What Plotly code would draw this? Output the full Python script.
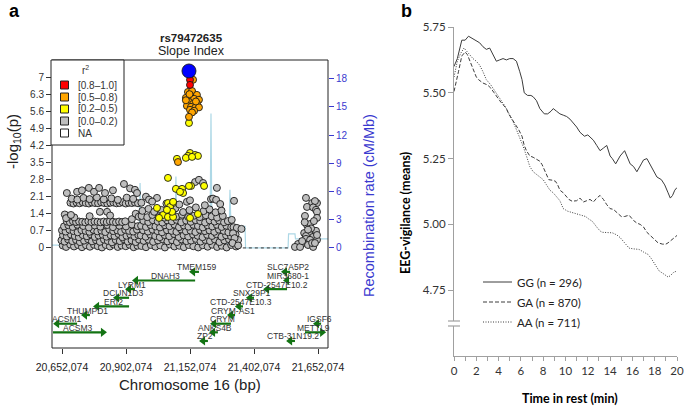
import plotly.graph_objects as go

W, H = 685, 406


def fx(px):
    return px / W


def fy(py):
    return 1 - py / H


# ---------------- Panel a data (positions in Mb on chr16, -log10 p) ----------------
LEAD_SNP = "rs79472635"
PHENOTYPE = "Slope Index"
LEAD_SNPS = [(21.148, 7.25)]
RED_SNPS = [(21.152, 6.89), (21.152, 6.68)]
ORANGE_SNPS = [
    (21.164, 6.89), (21.144, 6.39), (21.160, 6.43), (21.179, 6.27), (21.136, 6.15),
    (21.152, 6.15), (21.168, 6.11), (21.187, 6.07), (21.148, 5.98), (21.164, 5.90),
    (21.179, 5.92), (21.140, 5.82), (21.156, 5.78), (21.172, 5.74), (21.187, 5.76),
    (21.152, 5.66), (21.168, 5.62), (21.160, 5.55), (21.148, 5.37), (21.136, 6.05),
    (21.175, 6.00), (21.150, 6.30), (21.105, 3.52),
]
YELLOW_SNPS = [
    (21.148, 5.12), (21.101, 3.65), (21.152, 3.89), (21.144, 3.77), (21.172, 3.81),
    (21.183, 3.77), (21.136, 3.69), (21.160, 3.73), (21.066, 2.87), (21.097, 2.42),
    (21.121, 2.42), (21.125, 2.25), (21.113, 2.30), (21.156, 2.54), (21.207, 2.54),
    (21.148, 2.54), (21.066, 1.84), (21.086, 1.84), (21.074, 1.68), (21.023, 1.64),
    (21.047, 1.35), (21.031, 1.23), (21.066, 1.27), (21.086, 1.27), (21.082, 1.48),
    (21.152, 1.23), (21.183, 1.39), (21.062, 1.56), (21.086, 1.89),
]
GRAY_SNPS = [
    # left block, low values
    (20.655, 0.10), (20.668, 0.04), (20.684, 0.14), (20.699, 0.06), (20.715, 0.12),
    (20.730, 0.03), (20.746, 0.11), (20.761, 0.05), (20.777, 0.13), (20.792, 0.07),
    (20.808, 0.02), (20.823, 0.12), (20.839, 0.06), (20.854, 0.14), (20.870, 0.04),
    (20.885, 0.10), (20.901, 0.07), (20.916, 0.13), (20.932, 0.03), (20.947, 0.09),
    (20.650, 0.31), (20.662, 0.26), (20.676, 0.35), (20.692, 0.28), (20.707, 0.33),
    (20.722, 0.24), (20.738, 0.30), (20.754, 0.36), (20.769, 0.27), (20.785, 0.32),
    (20.800, 0.25), (20.816, 0.34), (20.831, 0.29), (20.847, 0.23), (20.862, 0.33),
    (20.878, 0.28), (20.893, 0.36), (20.909, 0.26), (20.924, 0.31), (20.940, 0.24),
    (20.953, 0.34),
    (20.656, 0.52), (20.671, 0.47), (20.687, 0.55), (20.702, 0.49), (20.718, 0.44),
    (20.733, 0.53), (20.749, 0.48), (20.764, 0.56), (20.780, 0.45), (20.795, 0.51),
    (20.811, 0.54), (20.826, 0.46), (20.842, 0.52), (20.857, 0.49), (20.873, 0.57),
    (20.888, 0.44), (20.904, 0.50), (20.919, 0.55), (20.935, 0.47), (20.950, 0.53),
    (20.652, 0.72), (20.666, 0.67), (20.681, 0.75), (20.697, 0.69), (20.713, 0.64),
    (20.728, 0.73), (20.744, 0.70), (20.759, 0.66), (20.775, 0.74), (20.790, 0.68),
    (20.806, 0.71), (20.821, 0.65), (20.837, 0.76), (20.852, 0.69), (20.868, 0.72),
    (20.883, 0.66), (20.899, 0.74), (20.914, 0.70), (20.930, 0.67), (20.945, 0.75),
    (20.660, 0.88), (20.677, 0.93), (20.694, 0.86), (20.712, 0.95), (20.735, 0.90),
    (20.757, 0.84), (20.780, 0.92), (20.802, 0.87), (20.829, 0.94), (20.851, 0.85),
    (20.876, 0.91), (20.902, 0.88), (20.925, 0.96), (20.948, 0.89),
    # left block, band near 1.07
    (20.671, 1.08), (20.683, 1.05), (20.695, 1.09), (20.707, 1.06), (20.719, 1.08),
    (20.731, 1.07), (20.743, 1.05), (20.755, 1.09), (20.767, 1.06), (20.779, 1.08),
    (20.791, 1.07), (20.803, 1.05), (20.815, 1.08), (20.827, 1.06), (20.839, 1.09),
    (20.851, 1.07), (20.863, 1.05), (20.875, 1.08), (20.887, 1.06), (20.899, 1.09),
    (20.663, 1.37), (20.668, 1.22), (20.700, 1.25), (20.687, 1.35), (20.760, 1.30),
    (20.800, 1.48), (20.828, 1.48), (20.840, 1.33), (20.925, 1.18), (20.940, 1.40),
    (20.952, 1.28),
    # left block, band near 1.84
    (20.685, 1.85), (20.697, 1.82), (20.709, 1.86), (20.721, 1.83), (20.733, 1.87),
    (20.745, 1.84), (20.757, 1.82), (20.769, 1.86), (20.781, 1.84), (20.793, 1.83),
    (20.805, 1.87), (20.817, 1.84), (20.829, 1.82), (20.841, 1.85), (20.853, 1.86),
    (20.865, 1.83), (20.877, 1.84), (20.889, 1.87), (20.901, 1.82), (20.913, 1.85),
    (20.925, 1.84), (20.937, 1.86), (20.949, 1.83),
    (20.690, 2.02), (20.712, 1.98), (20.736, 2.05), (20.760, 2.00), (20.788, 2.07),
    (20.815, 1.99), (20.845, 2.03), (20.870, 1.97), (20.905, 2.06), (20.930, 2.01),
    (20.671, 2.25), (20.711, 2.30), (20.730, 2.36), (20.757, 2.46), (20.777, 2.30),
    (20.797, 2.46), (20.820, 2.25), (20.851, 2.36), (20.894, 2.62), (20.918, 2.44),
    (20.937, 2.38), (20.945, 2.25),
    # middle block
    (20.962, 0.08), (20.980, 0.03), (20.999, 0.12), (21.017, 0.05), (21.036, 0.10),
    (21.054, 0.02), (21.073, 0.14), (21.091, 0.06), (21.110, 0.09), (21.128, 0.03),
    (21.147, 0.12), (21.165, 0.07), (21.184, 0.02), (21.202, 0.11), (21.221, 0.05),
    (21.239, 0.13), (21.258, 0.04), (21.276, 0.09), (21.295, 0.02), (21.313, 0.12),
    (21.332, 0.06),
    (20.971, 0.29), (20.990, 0.34), (21.008, 0.25), (21.027, 0.31), (21.045, 0.36),
    (21.064, 0.27), (21.082, 0.32), (21.101, 0.24), (21.119, 0.35), (21.138, 0.28),
    (21.156, 0.30), (21.175, 0.37), (21.193, 0.26), (21.212, 0.33), (21.230, 0.28),
    (21.249, 0.35), (21.267, 0.24), (21.286, 0.31), (21.304, 0.36), (21.323, 0.27),
    (21.340, 0.33),
    (20.960, 0.51), (20.979, 0.46), (20.997, 0.55), (21.016, 0.49), (21.034, 0.44),
    (21.053, 0.53), (21.071, 0.48), (21.090, 0.57), (21.108, 0.45), (21.127, 0.52),
    (21.145, 0.47), (21.164, 0.55), (21.182, 0.50), (21.201, 0.44), (21.219, 0.54),
    (21.238, 0.49), (21.256, 0.56), (21.275, 0.46), (21.293, 0.52), (21.312, 0.48),
    (21.330, 0.55),
    (20.969, 0.72), (20.988, 0.67), (21.006, 0.75), (21.025, 0.69), (21.043, 0.64),
    (21.062, 0.73), (21.080, 0.70), (21.099, 0.66), (21.117, 0.76), (21.136, 0.68),
    (21.154, 0.71), (21.173, 0.65), (21.191, 0.74), (21.210, 0.69), (21.228, 0.72),
    (21.247, 0.66), (21.265, 0.75), (21.284, 0.70), (21.302, 0.64), (21.321, 0.73),
    (20.961, 0.91), (20.980, 0.86), (20.998, 0.94), (21.017, 0.88), (21.035, 0.84),
    (21.054, 0.93), (21.072, 0.89), (21.091, 0.96), (21.109, 0.85), (21.128, 0.92),
    (21.146, 0.87), (21.165, 0.95), (21.183, 0.90), (21.202, 0.84), (21.220, 0.93),
    (21.239, 0.88), (21.257, 0.95), (21.276, 0.86), (21.294, 0.91), (21.313, 0.85),
    (20.970, 1.11), (20.989, 1.06), (21.007, 1.14), (21.026, 1.08), (21.044, 1.04),
    (21.063, 1.13), (21.081, 1.09), (21.100, 1.15), (21.118, 1.05), (21.137, 1.12),
    (21.155, 1.07), (21.174, 1.14), (21.192, 1.10), (21.211, 1.04), (21.229, 1.13),
    (21.248, 1.08), (21.266, 1.12), (21.285, 1.05), (21.300, 1.10),
    (20.963, 1.31), (20.985, 1.26), (21.005, 1.35), (21.030, 1.29), (21.052, 1.24),
    (21.076, 1.33), (21.098, 1.28), (21.121, 1.36), (21.145, 1.27), (21.168, 1.32),
    (21.190, 1.26), (21.214, 1.34), (21.237, 1.29), (21.258, 1.24), (21.280, 1.31),
    (20.966, 1.52), (20.990, 1.60), (21.012, 1.48), (21.040, 1.56), (21.066, 1.50),
    (21.095, 1.62), (21.125, 1.47), (21.150, 1.55), (21.175, 1.66), (21.205, 1.51),
    (21.228, 1.58), (21.252, 1.46), (21.275, 1.53),
    (20.980, 2.10), (20.992, 1.98), (21.023, 2.05), (21.004, 1.90), (20.962, 1.85),
    (21.140, 1.89), (21.152, 1.95), (21.172, 2.70), (21.187, 2.79), (21.203, 2.66),
    (21.234, 2.00), (21.242, 2.02), (21.254, 1.97), (21.257, 2.46), (21.324, 1.93),
    (21.270, 1.80), (21.110, 1.78), (21.060, 1.82), (21.210, 1.75),
    (21.315, 1.15), (21.322, 0.85), (21.335, 0.82), (21.353, 0.78), (21.320, 0.60),
    (21.326, 0.40), (21.318, 0.20), (21.340, 0.10),
    # right block
    (21.605, 2.05), (21.629, 1.84), (21.648, 1.84), (21.640, 1.92), (21.609, 1.68),
    (21.633, 1.66), (21.644, 1.56), (21.648, 1.48), (21.601, 1.31), (21.648, 1.23),
    (21.609, 0.94), (21.621, 0.98), (21.644, 0.70), (21.598, 0.61), (21.617, 0.61),
    (21.633, 0.45), (21.605, 0.49), (21.605, 0.37), (21.621, 0.33), (21.648, 0.33),
    (21.594, 0.20), (21.613, 0.12), (21.633, 0.04), (21.574, 0.16), (21.562, 0.04),
    (21.582, 0.04), (21.629, 0.20), (21.640, 0.20), (21.648, 0.53), (21.625, 0.80),
    (21.590, 0.28), (21.613, 0.75), (21.636, 1.10), (21.600, 1.05),
]
RECOMB_POS = [20.613, 20.953, 20.957, 20.961, 21.093, 21.097, 21.101, 21.230, 21.234,
              21.238, 21.304, 21.308, 21.312, 21.367, 21.369, 21.535, 21.537, 21.562,
              21.564, 21.691]
RECOMB_RATE = [0.3, 0.3, 6.9, 0.3, 0.4, 7.6, 0.4, 0.4, 14.3,
               0.5, 0.5, 6.2, 2.3, 2.3, 0.0, 0.0, 1.5, 1.5,
               0.96, 0.96]
NO_SNP_SPAN = [21.335, 21.545]

GENE_NAMES = ["ACSM3", "ACSM1", "THUMPD1", "ERI2", "DCUN1D3", "LYRM1", "DNAH3",
              "TMEM159", "SLC7A5P2", "MIR3680-1", "CTD-2547E10.2", "SNX29P1",
              "CTD-2547E10.3", "CRYM-AS1", "CRYM", "ANKS4B", "ZP2", "IGSF6",
              "METTL9", "CTB-31N19.2"]
GENE_START = [20.617, 20.633, 20.742, 20.789, 20.867, 20.914, 20.941,
              21.164, 21.523, 21.531, 21.453, 21.386,
              21.343, 21.312, 21.246, 21.242, 21.203, 21.648,
              21.601, 21.543]
GENE_END = [20.812, 20.711, 20.761, 20.914, 20.914, 20.937, 21.172,
            21.187, 21.543, 21.535, 21.531, 21.402,
            21.359, 21.328, 21.312, 21.261, 21.222, 21.664,
            21.668, 21.562]
GENE_STRAND = ["+", "-", "-", "-", "-", "-", "-",
               "-", "-", "-", "-", "-",
               "-", "-", "-", "-", "-", "-",
               "+", "-"]
GENE_ROW = [7, 6, 5, 4, 3, 2, 1,
            0, 0, 1, 2, 3,
            4, 5, 6, 7, 8, 6,
            7, 8]

X_TICKS_BP = [20652074, 20902074, 21152074, 21402074, 21652074]
LOGP_TICKS = [0, 0.7, 1.4, 2.1, 2.8, 3.5, 4.2, 4.9, 5.6, 6.3, 7]
RECOMB_TICKS = [0, 3, 6, 9, 12, 15, 18]
R2_LABELS = ["[0.8\u20131.0]", "[0.5\u20130.8)", "[0.2\u20130.5)", "[0.0\u20130.2)", "NA"]
R2_COLORS = ["#FF0000", "#FFA500", "#FFFF00", "#BEBEBE", "#FFFFFF"]

# ---------------- Panel b data (EEG-vigilance means over time) ----------------
GENOTYPES = ["GG (n = 296)", "GA (n = 870)", "AA (n = 711)"]
GG_CURVE = [
    (0, 5.60), (0.3, 5.63), (0.7, 5.70), (1.0, 5.70), (1.3, 5.715), (1.7, 5.705),
    (2.0, 5.70), (2.3, 5.69), (2.6, 5.675), (2.9, 5.665), (3.2, 5.67), (3.5, 5.645),
    (3.8, 5.62), (4.1, 5.625), (4.4, 5.63), (4.7, 5.625), (5.0, 5.63), (5.3, 5.63),
    (5.6, 5.62), (5.9, 5.58), (6.1, 5.55), (6.3, 5.50), (6.6, 5.49), (6.9, 5.49),
    (7.1, 5.485), (7.4, 5.47), (7.7, 5.44), (8.1, 5.42), (8.4, 5.42), (8.7, 5.43),
    (8.9, 5.44), (9.2, 5.43), (9.5, 5.42), (9.8, 5.415), (10.1, 5.41), (10.4, 5.40),
    (10.7, 5.385), (11.0, 5.37), (11.3, 5.35), (11.7, 5.335), (12.0, 5.34), (12.3, 5.33),
    (12.5, 5.32), (12.8, 5.30), (13.1, 5.28), (13.4, 5.29), (13.7, 5.30), (14.0, 5.26),
    (14.2, 5.25), (14.5, 5.23), (14.9, 5.26), (15.3, 5.28), (15.6, 5.25), (15.8, 5.23),
    (16.1, 5.22), (16.4, 5.20), (16.8, 5.23), (17.0, 5.245), (17.3, 5.25), (17.7, 5.22),
    (18.0, 5.20), (18.2, 5.18), (18.6, 5.17), (18.9, 5.15), (19.2, 5.12), (19.4, 5.10),
    (19.6, 5.11), (19.8, 5.13), (20.0, 5.14),
]
GA_CURVE = [
    (0, 5.505), (0.2, 5.54), (0.4, 5.58), (0.7, 5.64), (1.0, 5.655), (1.2, 5.645),
    (1.4, 5.625), (1.7, 5.59), (2.0, 5.56), (2.2, 5.55), (2.6, 5.537), (3.0, 5.53),
    (3.3, 5.518), (3.6, 5.50), (3.8, 5.486), (4.1, 5.47), (4.4, 5.455), (4.7, 5.44),
    (4.9, 5.42), (5.2, 5.40), (5.5, 5.385), (5.8, 5.36), (6.1, 5.335), (6.3, 5.30),
    (6.5, 5.28), (6.8, 5.26), (7.1, 5.255), (7.4, 5.246), (7.7, 5.24), (7.9, 5.227),
    (8.2, 5.20), (8.5, 5.17), (8.8, 5.168), (9.1, 5.164), (9.3, 5.15), (9.5, 5.13),
    (9.8, 5.12), (10.1, 5.105), (10.3, 5.095), (10.6, 5.088), (11.0, 5.09), (11.3, 5.10),
    (11.6, 5.085), (11.9, 5.09), (12.2, 5.095), (12.5, 5.085), (12.8, 5.10), (13.1, 5.11),
    (13.4, 5.095), (13.7, 5.075), (14.0, 5.06), (14.3, 5.057), (14.6, 5.045), (15.0, 5.03),
    (15.3, 5.03), (15.7, 5.035), (16.1, 5.015), (16.4, 5.005), (16.7, 5.0), (17.0, 4.99),
    (17.3, 4.97), (17.7, 4.955), (18.0, 4.945), (18.3, 4.93), (18.7, 4.925), (19.0, 4.925),
    (19.2, 4.93), (19.5, 4.94), (19.8, 4.95), (20.0, 4.958),
]
AA_CURVE = [
    (0, 5.56), (0.3, 5.62), (0.6, 5.65), (0.9, 5.67), (1.3, 5.65), (1.7, 5.63),
    (2.0, 5.62), (2.3, 5.605), (2.6, 5.58), (2.9, 5.55), (3.3, 5.53), (3.8, 5.50),
    (4.1, 5.48), (4.4, 5.46), (4.7, 5.44), (5.0, 5.417), (5.3, 5.39), (5.6, 5.36),
    (5.9, 5.33), (6.2, 5.297), (6.5, 5.26), (6.8, 5.22), (7.1, 5.20), (7.4, 5.19),
    (7.7, 5.18), (8.0, 5.17), (8.3, 5.15), (8.6, 5.13), (8.9, 5.12), (9.2, 5.107),
    (9.5, 5.09), (9.8, 5.06), (10.2, 5.05), (10.6, 5.045), (11.0, 5.04), (11.4, 5.035),
    (11.8, 5.03), (12.1, 5.02), (12.4, 5.012), (12.8, 4.99), (13.1, 4.975), (13.3, 4.97),
    (13.7, 4.97), (14.2, 4.968), (14.6, 4.96), (14.9, 4.95), (15.3, 4.93), (15.7, 4.91),
    (16.1, 4.907), (16.6, 4.905), (17.0, 4.895), (17.4, 4.886), (17.7, 4.87), (17.9, 4.856),
    (18.2, 4.835), (18.4, 4.823), (18.7, 4.815), (19.0, 4.804), (19.2, 4.80), (19.4, 4.805),
    (19.7, 4.818), (20.0, 4.823),
]
Y_TICKS_B = [4.75, 5.00, 5.25, 5.50, 5.75]
X_TICKS_B = list(range(0, 21))

# ---------------- styles ----------------
FONT_A = "Liberation Sans, Arial, sans-serif"
FONT_B = "Lato, Open Sans, sans-serif"
GENE_GREEN = "#137313"
RECOMB_BLUE = "#ADD8E6"
AXIS_BLUE = "#3A3ACF"
LINE_GRAY = "#3C3C3C"
B_AXIS = "#A0A0A0"


def ann(px, py, text, size, color="#222222", family=FONT_A, angle=0, xanchor="center"):
    return dict(x=fx(px), y=fy(py), xref="paper", yref="paper", text=text,
                showarrow=False, textangle=angle, xanchor=xanchor, yanchor="middle",
                font=dict(family=family, size=size, color=color))


fig = go.Figure()

# recombination line (primary y, drawn first)
fig.add_trace(go.Scatter(x=RECOMB_POS, y=RECOMB_RATE, mode="lines",
                         line=dict(color=RECOMB_BLUE, width=1.2),
                         xaxis="x", yaxis="y", hoverinfo="skip"))
fig.add_trace(go.Scatter(x=NO_SNP_SPAN, y=[0, 0], mode="lines",
                         line=dict(color="#333333", width=1, dash="dot"),
                         xaxis="x", yaxis="y", hoverinfo="skip"))


def snp_trace(pts, color, size):
    xs = [p[0] for p in pts]
    ys = [p[1] for p in pts]
    return go.Scatter(x=xs, y=ys, mode="markers", xaxis="x", yaxis="y2",
                      marker=dict(color=color, size=size,
                                  line=dict(color="#1a1a1a", width=0.9)),
                      hoverinfo="skip")


fig.add_trace(snp_trace(GRAY_SNPS, R2_COLORS[3], 7))
fig.add_trace(snp_trace(YELLOW_SNPS, R2_COLORS[2], 7))
fig.add_trace(snp_trace(ORANGE_SNPS, R2_COLORS[1], 7))
fig.add_trace(snp_trace(RED_SNPS, R2_COLORS[0], 7))
fig.add_trace(snp_trace(LEAD_SNPS, "#0000FF", 14))

# genes
ROW0, ROWSTEP = -0.98, 0.354
gx, gy, hx, hy, hs = [], [], [], [], []
for s, e, st, r in zip(GENE_START, GENE_END, GENE_STRAND, GENE_ROW):
    yv = ROW0 - ROWSTEP * r
    gx += [s, e, None]
    gy += [yv, yv, None]
    if st == "+":
        hx.append(e); hs.append("triangle-right")
    else:
        hx.append(s); hs.append("triangle-left")
    hy.append(yv)
fig.add_trace(go.Scatter(x=gx, y=gy, mode="lines", xaxis="x", yaxis="y2",
                         line=dict(color=GENE_GREEN, width=2.2), hoverinfo="skip"))
fig.add_trace(go.Scatter(x=hx, y=hy, mode="markers", xaxis="x", yaxis="y2",
                         marker=dict(symbol=hs, size=8, color=GENE_GREEN),
                         hoverinfo="skip"))

annotations = []
for name, s, e, r in zip(GENE_NAMES, GENE_START, GENE_END, GENE_ROW):
    annotations.append(dict(x=(s + e) / 2, y=ROW0 - ROWSTEP * r, xref="x", yref="y2",
                            text=name, showarrow=False, yshift=4.5,
                            xanchor="center", yanchor="middle",
                            font=dict(family=FONT_A, size=8.5, color="#333333")))

# panel b curves
dashes = ["solid", "4px,2px", "1px,1.5px"]
for curve, d in zip([GG_CURVE, GA_CURVE, AA_CURVE], dashes):
    fig.add_trace(go.Scatter(x=[p[0] for p in curve], y=[p[1] for p in curve],
                             mode="lines", xaxis="x2", yaxis="y3",
                             line=dict(color=LINE_GRAY, width=1, dash=d),
                             hoverinfo="skip"))

shapes = []
# panel a frame
shapes.append(dict(type="rect", xref="x domain", yref="y domain", x0=0, x1=1, y0=0, y1=1,
                   line=dict(color="#222222", width=1)))
# r2 legend box
shapes.append(dict(type="rect", xref="paper", yref="paper", x0=fx(51), x1=fx(124),
                   y0=fy(145), y1=fy(60), line=dict(color="#222222", width=1),
                   fillcolor="white"))
legend_rows = [85, 97, 109, 121, 133]
for lab, col, ry in zip(R2_LABELS, R2_COLORS, legend_rows):
    shapes.append(dict(type="rect", xref="paper", yref="paper", x0=fx(60.5), x1=fx(68.5),
                       y0=fy(ry + 4), y1=fy(ry - 4), fillcolor=col,
                       line=dict(color="#222222", width=1)))
    annotations.append(ann(76, ry, lab, 10, "#333333", xanchor="left"))
annotations.append(ann(85, 70, "r<sup>2</sup>", 10, "#333333"))

# panel b legend
for lab, d, ry in zip(GENOTYPES, dashes, [282, 302, 322]):
    shapes.append(dict(type="line", xref="paper", yref="paper", x0=fx(483), x1=fx(512),
                       y0=fy(ry), y1=fy(ry), line=dict(color=LINE_GRAY, width=1, dash=d)))
    annotations.append(ann(515, ry, lab, 11.5, "#222222", family=FONT_B, xanchor="left"))

# axis break on panel b y axis
shapes.append(dict(type="rect", xref="paper", yref="paper", x0=fx(451), x1=fx(457),
                   y0=fy(326), y1=fy(321), fillcolor="white", line=dict(width=0)))
for by in [321, 326]:
    shapes.append(dict(type="line", xref="paper", yref="paper", x0=fx(448), x1=fx(460),
                       y0=fy(by), y1=fy(by), line=dict(color=B_AXIS, width=1.2)))

# titles / labels
annotations += [
    ann(14, 11, "<b>a</b>", 18, "black"),
    ann(406, 11, "<b>b</b>", 18, "black"),
    ann(191, 38, "<b>" + LEAD_SNP + "</b>", 11.5),
    ann(191, 51, PHENOTYPE, 12.5),
    ann(13, 142, "-log<sub>10</sub>(p)", 15, angle=-90),
    ann(369, 206, "Recombination rate (cM/Mb)", 14.5, AXIS_BLUE, angle=-90),
    ann(190, 384, "Chromosome 16 (bp)", 15),
    ann(405, 213, "<b>EEG-vigilance (means)</b>", 12.5, "black", family=FONT_B, angle=-90),
    ann(570, 398, "<b>Time in rest (min)</b>", 12.5, "black", family=FONT_B),
]

fig.update_layout(
    width=W, height=H, autosize=False,
    margin=dict(l=0, r=0, t=0, b=0, pad=0, autoexpand=False),
    paper_bgcolor="white", plot_bgcolor="white",
    showlegend=False,
    xaxis=dict(domain=[fx(52), fx(328)], range=[20.613, 21.691],
               tickvals=[b / 1e6 for b in X_TICKS_BP],
               ticktext=[f"{b:,}" for b in X_TICKS_BP],
               ticks="outside", ticklen=5, tickcolor="#333333", ticklabelstandoff=4,
               tickfont=dict(family=FONT_A, size=10.5, color="#222222"),
               showgrid=False, zeroline=False, showline=False, anchor="y",
               automargin=False),
    yaxis=dict(domain=[fy(348), fy(60)], range=[-10.65, 20.0], side="right",
               tickvals=RECOMB_TICKS, ticktext=[str(t) for t in RECOMB_TICKS],
               ticks="outside", ticklen=5, tickcolor=AXIS_BLUE,
               tickfont=dict(family=FONT_A, size=10, color=AXIS_BLUE),
               showgrid=False, zeroline=False, showline=False, anchor="x",
               automargin=False),
    yaxis2=dict(overlaying="y", side="left", range=[-4.1, 7.7],
                tickvals=LOGP_TICKS, ticktext=[f"{t:g}" for t in LOGP_TICKS],
                ticks="outside", ticklen=5, tickcolor="#333333",
                tickfont=dict(family=FONT_A, size=10, color="#333333"),
                showgrid=False, zeroline=False, showline=False, anchor="x",
                automargin=False),
    xaxis2=dict(domain=[fx(454), fx(677)], range=[0, 20],
                tickvals=X_TICKS_B,
                ticktext=[str(t) if t % 2 == 0 else " " for t in X_TICKS_B],
                ticks="outside", ticklen=4, tickcolor=B_AXIS,
                tickfont=dict(family=FONT_B, size=11.5, color="#333333"),
                showline=True, linecolor=B_AXIS, linewidth=1.2,
                showgrid=False, zeroline=False, anchor="y3", automargin=False),
    yaxis3=dict(domain=[fy(356), fy(27)], range=[4.5, 5.75],
                tickvals=Y_TICKS_B, ticktext=[f"{t:.2f}" for t in Y_TICKS_B],
                ticks="outside", ticklen=5, tickcolor=B_AXIS,
                tickfont=dict(family=FONT_B, size=11.5, color="#333333"),
                showline=True, linecolor=B_AXIS, linewidth=1.2,
                showgrid=False, zeroline=False, anchor="x2", automargin=False),
    shapes=shapes,
    annotations=annotations,
)

fig.write_html("out.html", config={"displayModeBar": False},
               post_script="document.body.style.margin='0';document.body.style.padding='0';")
